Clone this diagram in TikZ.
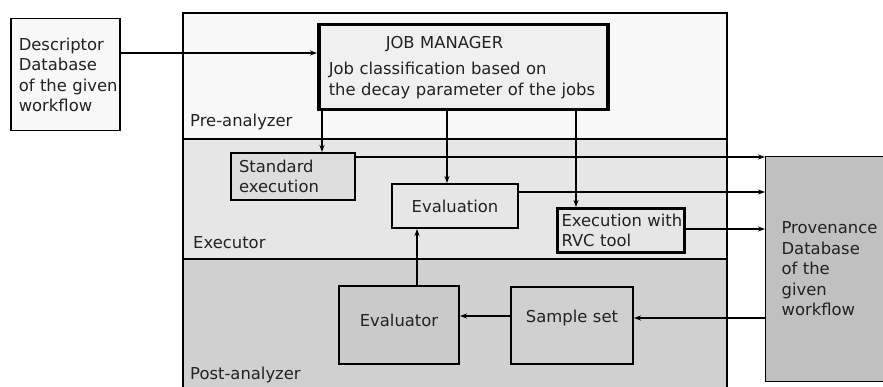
\documentclass[tikz,border=0pt]{standalone}
\usepackage{fontspec}
\setmainfont{DejaVu Sans}
\usepackage{tikz}
\usetikzlibrary{arrows.meta}
\definecolor{prefill}{HTML}{F8F8F8}
\definecolor{exefill}{HTML}{E6E6E6}
\definecolor{postfill}{HTML}{D0D0D0}
\definecolor{jobfill}{HTML}{F0F0F0}
\definecolor{provfill}{HTML}{C0C0C0}
\definecolor{inkgray}{HTML}{222222}

\begin{document}
\begin{tikzpicture}[x=1pt, y=-1pt, >={Stealth[length=7pt, width=5pt]},
	font=\fontsize{16.4}{20.5}\selectfont,
	box/.style={draw, rectangle, anchor=north west, inner xsep=8pt, inner ysep=0pt, align=left, text=inkgray,
		execute at begin node={\hyphenpenalty=10000\exhyphenpenalty=10000}},
	stage/.style={anchor=west, inner sep=0pt, text=inkgray},
	flow/.style={->, line width=1.1}]
% fix the picture size
	\clip (0,0) rectangle (883,387);
	\fill[white] (0,0) rectangle (883,387);
% draw the three stages
	\fill[color=prefill] (183,13) rectangle (727,139);
	\fill[color=exefill] (183,139) rectangle (727,259);
	\fill[color=postfill] (183,259) rectangle (727,395);
	\draw[line width=2.5] (183,395) -- (183,13) -- (727,13) -- (727,395);
	\draw[line width=2] (183,139) -- (727,139);
	\draw[line width=2] (183,259) -- (727,259);
	\node[stage] (pre) at (190,122) {Pre-analyzer};
	\node[stage] (exe) at (193,243) {Executor};
	\node[stage] (post) at (190,375) {Post-analyzer};
% draw the boxes
	\node[box, line width=1.5, fill=prefill, text width=93pt, minimum height=112pt] (desc) at (10,18) {Descriptor\\Database\\of~the~given\\workflow};
	\node[box, line width=3.5, fill=jobfill, inner xsep=10pt, text width=269pt, minimum height=85pt] (jm) at (317,23) {\hspace*{57pt}JOB~MANAGER\\[6pt]Job~classification~based~on\\the~decay~parameter~of~the~jobs};
	\node[box, line width=2, fill=exefill!96!black, text width=108pt, minimum height=47pt] (std) at (230,152) {Standard\\execution};
	\node[box, line width=2, fill=exefill, align=center, text width=110pt, minimum height=44pt] (evaln) at (391,183) {Evaluation};
	\node[box, line width=3, fill=exefill, inner xsep=4pt, text width=119pt, minimum height=44pt] (rvc) at (556,207) {Execution~with\\RVC~tool};
	\node[box, line width=1.2, fill=provfill, inner xsep=16pt, text width=108pt, minimum height=225pt] (prov) at (765,156) {Provenance\\Database\\of~the\\given\\workflow};
	\node[box, line width=2, fill=postfill!97!black, align=center, text width=104pt, minimum height=78pt, text depth=10pt] (evtor) at (338,285) {Evaluator};
	\node[box, line width=2, fill=postfill, align=center, text width=106pt, minimum height=77pt, text depth=18pt] (samp) at (510,286) {Sample~set};
% draw the arrows
	\draw[flow] (desc.east |- 0,53) -- (jm.west |- 0,53);
	\draw[flow] (322,0 |- jm.south) -- (322,0 |- std.north);
	\draw[flow] (447,0 |- jm.south) -- (447,0 |- evaln.north);
	\draw[flow] (576,0 |- jm.south) -- (576,0 |- rvc.north);
	\draw[flow] (std.east |- 0,157) -- (prov.west |- 0,157);
	\draw[flow] (evaln.east |- 0,192) -- (prov.west |- 0,192);
	\draw[flow] (rvc.east |- 0,229) -- (prov.west |- 0,229);
	\draw[flow] (prov.west |- 0,318) -- (samp.east |- 0,318);
	\draw[flow] (samp.west |- 0,316) -- (evtor.east |- 0,316);
	\draw[flow] (417,0 |- evtor.north) -- (417,0 |- evaln.south);
\end{tikzpicture}
\end{document}
